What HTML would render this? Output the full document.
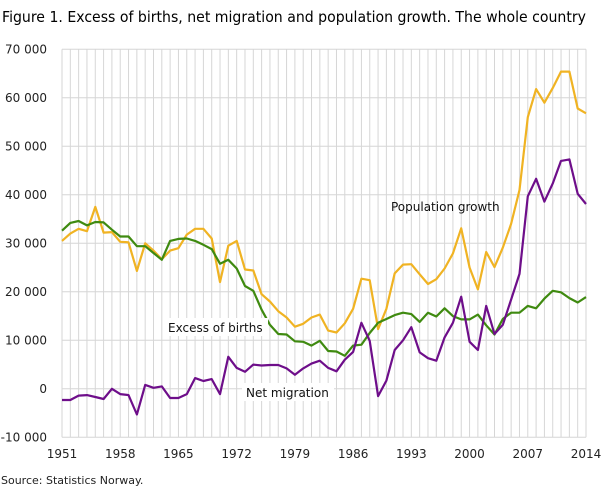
<!DOCTYPE html>
<html><head><meta charset="utf-8"><style>
body{margin:0;background:#fff;width:609px;height:489px;overflow:hidden;font-family:"DejaVu Sans","Liberation Sans",sans-serif}
</style></head><body>
<svg id="c" width="609" height="489" xmlns="http://www.w3.org/2000/svg" font-family="DejaVu Sans, Liberation Sans, sans-serif">
<text x="2" y="22" font-size="15" fill="#000" textLength="584" lengthAdjust="spacingAndGlyphs">Figure 1. Excess of births, net migration and population growth. The whole country</text>
<text x="1" y="484" font-size="11" fill="#222">Source: Statistics Norway.</text>
</svg>
<script>
var s=document.getElementById('c'),NS='http://www.w3.org/2000/svg';
function el(t,a,txt){var e=document.createElementNS(NS,t);for(var k in a)e.setAttribute(k,a[k]);if(txt!=null)e.textContent=txt;s.appendChild(e);return e;}
var X0=62,XS=(586-62)/63,Y0=388.8,YS=4.85;
function X(y){return X0+(y-1951)*XS} function Y(v){return Y0-v*YS}
for(var y=1951;y<=2014;y++)el('line',{x1:X(y),x2:X(y),y1:Y(70),y2:Y(-10),stroke:'#d6d6d6','stroke-width':1});
for(var v=-10;v<=70;v+=10){el('line',{x1:X0,x2:586,y1:Y(v),y2:Y(v),stroke:'#d6d6d6','stroke-width':1});
el('text',{x:47,y:Y(v)+4,'font-size':12,'text-anchor':'end',fill:'#222'},v==0?'0':(v<0?'-10 000':v+' 000'));}
for(var y=1951;y<=2014;y+=7)el('text',{x:X(y),y:458,'font-size':12,'text-anchor':'middle',fill:'#222'},String(y));
var pop=[30.5,32,33,32.5,37.5,32.2,32.3,30.3,30.2,24.3,30,28.5,26.7,28.5,29,31.8,33,33,31,22,29.5,30.5,24.6,24.4,19.5,18,16,14.7,12.8,13.4,14.7,15.3,12,11.6,13.5,16.5,22.7,22.4,12.3,16.5,23.8,25.6,25.7,23.6,21.6,22.6,24.8,27.9,33.1,25,20.5,28.2,25.1,29.1,34,41,56,61.8,59,62,65.4,65.4,57.8,56.8];
var exc=[32.6,34.2,34.6,33.7,34.4,34.3,32.8,31.4,31.4,29.4,29.4,28,26.6,30.5,30.9,31,30.5,29.7,28.8,25.8,26.6,24.8,21.2,20.2,16.3,13.2,11.3,11.2,9.8,9.7,8.9,9.9,7.8,7.7,6.8,8.9,9.1,11.5,13.6,14.4,15.2,15.7,15.4,13.8,15.7,14.9,16.6,15.0,14.3,14.3,15.3,13.1,11.2,14.4,15.7,15.7,17.1,16.6,18.6,20.2,19.9,18.7,18.3,17.8,18.9];
exc.splice(62,1);
var net=[-2.3,-2.3,-1.4,-1.3,-1.7,-2.1,0,-1.1,-1.3,-5.3,0.8,0.2,0.5,-1.9,-1.9,-1.1,2.2,1.6,2.0,-1.1,6.6,4.3,3.5,5.0,4.8,4.9,4.9,4.2,2.9,4.2,5.2,5.8,4.3,3.6,6.0,7.6,13.6,9.9,-1.5,1.7,8.0,10.0,12.7,7.5,6.3,5.8,10.6,13.6,19.0,9.7,8.0,17.1,11.3,13.2,18.4,23.7,39.7,43.3,38.6,42.3,47.0,47.3,40.2,38.1];
function line(d,c){el('polyline',{points:d.map(function(v,i){return X(1951+i).toFixed(1)+','+Y(v).toFixed(1)}).join(' '),fill:'none',stroke:c,'stroke-width':2.2,'stroke-linejoin':'round'});}
line(pop,'#f0b323');line(exc,'#3f8a10');
el('rect',{x:164,y:318,width:104,height:18,fill:'#fff'});
el('text',{x:168,y:332,'font-size':12,fill:'#111'},'Excess of births');
line(net,'#6e0e8a');
el('rect',{x:242,y:383,width:92,height:18,fill:'#fff'});
el('text',{x:246,y:397,'font-size':12,fill:'#111'},'Net migration');
el('text',{x:391,y:211,'font-size':12,fill:'#111'},'Population growth');
</script>
</body></html>
